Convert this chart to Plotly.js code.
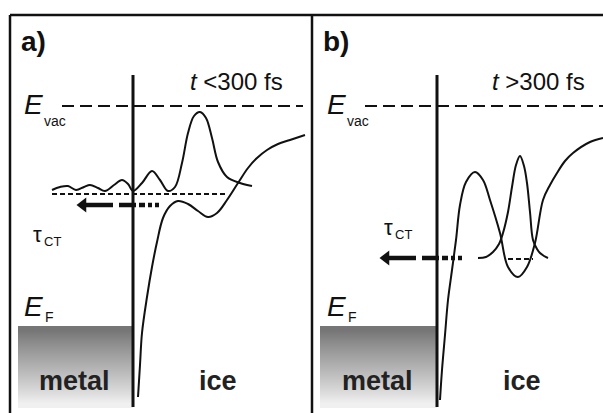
<!DOCTYPE html>
<html>
<head>
<meta charset="utf-8">
<script src="https://cdn.plot.ly/plotly-3.0.1.min.js"></script>
<style>
  html, body { margin: 0; padding: 0; background: #fff; }
  #fig { width: 603px; height: 413px; }
</style>
</head>
<body>
<div id="fig"></div>
<script>
// Panel a (t < 300 fs): delocalised wave packet over the image-potential well
const waveA_x = [52, 60, 68, 76, 84, 90, 98, 105, 114, 122, 128, 133, 142, 152, 160, 168, 175, 182, 188, 194, 200, 206, 212, 218, 227, 240, 252];
const waveA_y = [190, 187, 186, 190, 187, 185, 188, 191, 185, 180, 184, 191, 183, 171, 180, 191, 187, 163, 133, 116, 112, 118, 138, 162, 177, 183, 186];
const potA_x = [138, 140, 142, 147, 152, 157, 163, 170, 178, 188, 198, 208, 217, 227, 238, 248, 257, 267, 278, 290, 305];
const potA_y = [397, 365, 333, 297, 267, 242, 218, 206, 201, 204, 211, 217, 213, 200, 183, 168, 158, 150, 144, 140, 135];

// Panel b (t > 300 fs): localised state trapped in the solvated well
const waveB_x = [478, 486, 493, 499, 503, 508, 512, 516, 520, 524, 527, 530, 533, 537, 540, 544, 548];
const waveB_y = [258, 257, 252, 244, 233, 212, 187, 165, 156, 166, 183, 212, 240, 249, 253, 256, 258];
const potB_x = [440, 442, 445, 448, 452, 456, 460, 466, 475, 483, 490, 500, 508, 518, 527, 535, 543, 550, 557, 565, 573, 590, 603];
const potB_y = [400, 370, 335, 300, 270, 240, 205, 182, 172, 180, 200, 233, 267, 277, 267, 243, 200, 185, 173, 161, 153, 142, 138];

// Grey levels of the shaded metal block, top to bottom
const metalShade_y = [326, 335, 344, 353, 362, 371, 380, 389, 398, 408];
const metalShade_level = [118, 135, 150, 164, 178, 192, 207, 222, 240];

// Panel labels and text
const panelLabels = ['a)', 'b)'];
const timeLabels = ['<i>t</i> &lt;300 fs', '<i>t</i> &gt;300 fs'];

const FONT = 'Liberation Sans, Arial, sans-serif';
const INK = '#111';

// panel geometry
const panels = [
  { left: 10, iface: 133, metalL: 18, arrowTip: 77, arrowY: 205, tauX: 32, tauY: 236, eLabelX: 24, timeX: 236, level: [52, 225, 194] },
  { left: 312, iface: 437, metalL: 320, arrowTip: 380, arrowY: 258, tauX: 383, tauY: 229, eLabelX: 327, timeX: 538, level: [508, 533, 259] }
];

const traces = [];
const shapes = [];
const annotations = [];

panels.forEach(p => {
  // shaded metal block
  traces.push({
    type: 'heatmap',
    x: [p.metalL, (p.metalL + p.iface) / 2, p.iface],
    y: metalShade_y,
    z: metalShade_level.map(v => [v, v]),
    zmin: 0, zmax: 255,
    zsmooth: 'best',
    colorscale: [[0, 'rgb(0,0,0)'], [1, 'rgb(255,255,255)']],
    showscale: false,
    hoverinfo: 'skip'
  });
});

// potential curves and wave functions
[[potA_x, potA_y], [waveA_x, waveA_y], [potB_x, potB_y], [waveB_x, waveB_y]].forEach(([xs, ys]) => {
  traces.push({
    type: 'scatter', mode: 'lines', x: xs, y: ys,
    line: { color: INK, width: 2, shape: 'spline', smoothing: 1.0 },
    hoverinfo: 'skip'
  });
});

panels.forEach((p, i) => {
  // charge-transfer arrow: solid shaft + head, then fading dashes
  traces.push({
    type: 'scatter', mode: 'lines', x: [p.arrowTip + 8, p.arrowTip + 36], y: [p.arrowY, p.arrowY],
    line: { color: INK, width: 4.5 }, hoverinfo: 'skip'
  });
  traces.push({
    type: 'scatter', mode: 'lines', x: [p.arrowTip + 42, p.arrowTip + 82], y: [p.arrowY, p.arrowY],
    line: { color: INK, width: 4.5, dash: '17px,3px,6px,3px,4px,3px,4px,40px' }, hoverinfo: 'skip'
  });
  traces.push({
    type: 'scatter', mode: 'markers', x: [p.arrowTip + 6], y: [p.arrowY],
    marker: { symbol: 'triangle-left', size: 13, color: INK, line: { width: 0 } }, hoverinfo: 'skip'
  });

  // interface between metal and ice
  shapes.push({ type: 'line', xref: 'x', yref: 'y', x0: p.iface, x1: p.iface, y0: 75, y1: 407, line: { color: INK, width: 3 } });
  // vacuum level
  shapes.push({ type: 'line', xref: 'x', yref: 'y', x0: p.eLabelX + 38, x1: p.left + 293, y0: 106, y1: 106, line: { color: INK, width: 2, dash: '12px,6px' } });
  // binding-energy level of the state
  shapes.push({ type: 'line', xref: 'x', yref: 'y', x0: p.level[0], x1: p.level[1], y0: p.level[2], y1: p.level[2], line: { color: INK, width: 1.8, dash: '5px,3px' } });

  const txt = (text, x, y, size, opts = {}) => annotations.push(Object.assign({
    text, x, y, xref: 'x', yref: 'y', showarrow: false,
    xanchor: 'left', yanchor: 'middle',
    font: { family: FONT, size, color: INK }
  }, opts));

  txt('<b>' + panelLabels[i] + '</b>', p.left + 9, 41, 28);
  txt(timeLabels[i], p.timeX, 81, 24, { xanchor: 'center' });
  txt('<i>E</i>', p.eLabelX - 2, 104, 28);
  txt('vac', p.eLabelX + 18, 121, 14);
  txt('<i>E</i>', p.eLabelX - 2, 306, 28);
  txt('F', p.eLabelX + 19, 317, 14);
  txt('τ', p.tauX - 1, p.tauY - 2, 22);
  txt('CT', p.tauX + 10, p.tauY + 5, 13);
  txt('<b>metal</b>', (p.metalL + p.iface) / 2 - 1, 381, 27, { xanchor: 'center', font: { family: FONT, size: 27, color: '#222' } });
  txt('<b>ice</b>', p.iface + 85, 381, 27, { xanchor: 'center', font: { family: FONT, size: 27, color: '#222' } });
});

// outer frame and panel divider
shapes.push({ type: 'line', xref: 'x', yref: 'y', x0: 10, x1: 603, y0: 15, y1: 15, line: { color: INK, width: 2.5 } });
shapes.push({ type: 'line', xref: 'x', yref: 'y', x0: 10, x1: 10, y0: 15, y1: 413, line: { color: INK, width: 2.5 } });
shapes.push({ type: 'line', xref: 'x', yref: 'y', x0: 312, x1: 312, y0: 15, y1: 413, line: { color: INK, width: 2.5 } });

const layout = {
  width: 603, height: 413,
  margin: { l: 0, r: 0, t: 0, b: 0 },
  paper_bgcolor: '#fff', plot_bgcolor: '#fff',
  showlegend: false,
  xaxis: { range: [0, 603], visible: false, fixedrange: true },
  yaxis: { range: [413, 0], visible: false, fixedrange: true },
  shapes, annotations
};

Plotly.newPlot('fig', traces, layout, { staticPlot: true, displayModeBar: false });
</script>
</body>
</html>
